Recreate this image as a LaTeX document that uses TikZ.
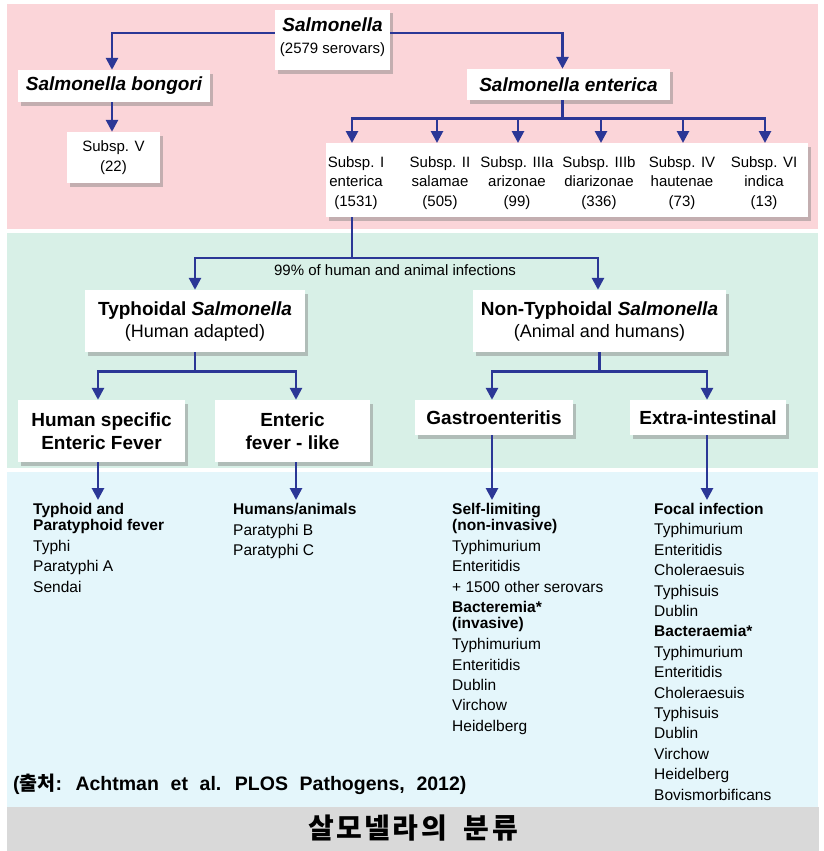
\documentclass[tikz,border=0pt]{standalone}
\usepackage{fontspec}
\setmainfont{Liberation Sans}
\newfontfamily\kr{Noto Sans CJK KR}
\usetikzlibrary{arrows.meta,shadows,calc}
\definecolor{bandpink}{RGB}{251,213,217}
\definecolor{bandgreen}{RGB}{216,240,231}
\definecolor{bandblue}{RGB}{228,246,251}
\definecolor{bandgray}{RGB}{217,217,217}
\definecolor{arrowblue}{RGB}{43,55,150}
\begin{document}
\begin{tikzpicture}[x=1pt,y=-1pt,
  box/.style={fill=white, inner sep=0pt, align=center,
    drop shadow={shadow xshift=3pt, shadow yshift=-3.5pt, fill=black!50, opacity=.45}},
  bigfont/.style={font=\fontsize{19}{23}\selectfont\bfseries},
  midfont/.style={font=\fontsize{15}{22}\selectfont},
  subfont/.style={font=\fontsize{15}{19.5}\selectfont},
  listfont/.style={font=\fontsize{15.5}{20.4}\selectfont, anchor=north west, inner sep=0pt, align=left},
  line/.style={draw=arrowblue, line width=2.7pt},
  conn/.style={line, -{Triangle[width=12pt,length=12pt]}}
]
\useasboundingbox (0,0) rectangle (823,851);
\fill[white] (0,0) rectangle (823,851);
% bands
\fill[bandpink] (7,4) rectangle (818,229);
\fill[bandgreen] (7,233) rectangle (818,468);
\fill[bandblue] (7,472) rectangle (818,807);
\fill[bandgray] (7,807) rectangle (819,851);

% boxes
\node[box, minimum width=115pt, minimum height=60pt] (root) at (332.5,40) {};
\node[midfont, align=center, inner sep=0pt] (rootlbl) at (332.5,37.5)
  {{\fontsize{19}{23}\selectfont\bfseries\itshape Salmonella}\\(2579 serovars)};
\node[box, minimum width=192pt, minimum height=32pt, bigfont] (bong) at (114,86)
  {\itshape Salmonella bongori};
\node[box, minimum width=93pt, minimum height=51pt, subfont] (subv) at (113.5,157.5)
  {Subsp. V\\(22)};
\node[box, minimum width=203pt, minimum height=31pt, bigfont] (ent) at (568.5,84.5)
  {\itshape Salmonella enterica};
\node[box, minimum width=482pt, minimum height=74pt] (subsp) at (567,180) {};
\node[subfont, align=center, inner sep=0pt] (sp1) at (356,183) {Subsp. I\\enterica\\(1531)};
\node[subfont, align=center, inner sep=0pt] (sp2) at (440,183) {Subsp. II\\salamae\\(505)};
\node[subfont, align=center, inner sep=0pt] (sp3) at (517,183) {Subsp. IIIa\\arizonae\\(99)};
\node[subfont, align=center, inner sep=0pt] (sp4) at (599,183) {Subsp. IIIb\\diarizonae\\(336)};
\node[subfont, align=center, inner sep=0pt] (sp5) at (682,183) {Subsp. IV\\hautenae\\(73)};
\node[subfont, align=center, inner sep=0pt] (sp6) at (764,183) {Subsp. VI\\indica\\(13)};

\node[box, minimum width=220pt, minimum height=62pt, midfont] (typh) at (195,321)
  {{\fontsize{19}{23}\selectfont\bfseries Typhoidal \itshape Salmonella}\\{\fontsize{18}{22}\selectfont(Human adapted)}};
\node[box, minimum width=253pt, minimum height=62pt, midfont] (ntyph) at (599.5,321)
  {{\fontsize{19}{23}\selectfont\bfseries Non-Typhoidal \itshape Salmonella}\\{\fontsize{18}{22}\selectfont(Animal and humans)}};
\node[box, minimum width=167pt, minimum height=62pt, bigfont] (hsef) at (101.5,431)
  {Human specific\\Enteric Fever};
\node[box, minimum width=155pt, minimum height=62pt, bigfont] (efl) at (292.5,431)
  {Enteric\\fever - like};
\node[box, minimum width=158pt, minimum height=35pt, bigfont] (gastro) at (494,417.5)
  {Gastroenteritis};
\node[box, minimum width=156pt, minimum height=35pt, bigfont] (extra) at (708,417.5)
  {Extra-intestinal};

% connectors
\draw[conn] ([yshift=7pt]root.west) -| ([xshift=-2pt]bong.north);
\draw[conn] ([yshift=7pt]root.east) -| ([xshift=-6pt]ent.north);
\draw[conn] ([xshift=-2pt]bong.south) -- ([xshift=-1.5pt]subv.north);

\coordinate (t1) at (352,143);
\coordinate (t2) at (437,143);
\coordinate (t3) at (518,143);
\coordinate (t4) at (601,143);
\coordinate (t5) at (683,143);
\coordinate (t6) at (765,143);
\draw[line] ([xshift=-6pt]ent.south) -- ++(0,18) coordinate (bus1);
\foreach \t in {t1,t2,t3,t4,t5,t6} \draw[conn] (bus1) -| (\t);

\coordinate (bus2) at (352,258);
\draw[line] ([xshift=-215pt]subsp.south) -- (bus2);
\draw[conn] (bus2) -| (typh.north);
\draw[conn] (bus2) -| ([xshift=-1.5pt]ntyph.north);
\node[font=\fontsize{15}{18}\selectfont] (pct) at (395,270) {99\% of human and animal infections};

\draw[line] (typh.south) -- ++(0,19) coordinate (bus3);
\draw[conn] (bus3) -| ([xshift=-3.5pt]hsef.north);
\draw[conn] (bus3) -| ([xshift=3.5pt]efl.north);
\draw[line] (ntyph.south) -- ++(0,19) coordinate (bus4);
\draw[conn] (bus4) -| ([xshift=-2pt]gastro.north);
\draw[conn] (bus4) -| ([xshift=-1pt]extra.north);

\coordinate (a1) at (98,500);
\coordinate (a2) at (296,500);
\coordinate (a3) at (492,500);
\coordinate (a4) at (707,500);
\draw[conn] ([xshift=-3.5pt]hsef.south) -- (a1);
\draw[conn] ([xshift=3.5pt]efl.south) -- (a2);
\draw[conn] ([xshift=-2pt]gastro.south) -- (a3);
\draw[conn] ([xshift=-1pt]extra.south) -- (a4);

% lists
\node[listfont] (l1) at (33,503)
  {\textbf{Typhoid and}\\[-4.4pt]\textbf{Paratyphoid fever}\\[0.6pt]Typhi\\Paratyphi A\\Sendai};
\node[listfont] (l2) at (233,503)
  {\textbf{Humans/animals}\\[0.6pt]Paratyphi B\\Paratyphi C};
\node[listfont] (l3) at (452,503)
  {\textbf{Self-limiting}\\[-4.4pt]\textbf{(non-invasive)}\\[0.6pt]Typhimurium\\Enteritidis\\+ 1500 other serovars\\
   \textbf{Bacteremia*}\\[-4.4pt]\textbf{(invasive)}\\[0.6pt]Typhimurium\\Enteritidis\\Dublin\\Virchow\\Heidelberg};
\node[listfont] (l4) at (654,503)
  {\textbf{Focal infection}\\Typhimurium\\Enteritidis\\Choleraesuis\\Typhisuis\\Dublin\\\textbf{Bacteraemia*}\\
   Typhimurium\\Enteritidis\\Choleraesuis\\Typhisuis\\Dublin\\Virchow\\Heidelberg\\Bovismorbificans};

% source and title
\node[anchor=west, inner sep=0pt, font=\bfseries\fontsize{19.5}{22}\selectfont] (src) at (13,784)
  {\spaceskip=0.6em\relax ({\kr\bfseries 출처}: Achtman et al. PLOS Pathogens, 2012)};
\node[font=\kr\bfseries\fontsize{28}{30}\selectfont] (title) at (413,828)
  {살\hspace{2.5pt}모\hspace{2.5pt}넬\hspace{2.5pt}라\hspace{2.5pt}의\hspace{0.6em}분\hspace{2.5pt}류};
\end{tikzpicture}
\end{document}
